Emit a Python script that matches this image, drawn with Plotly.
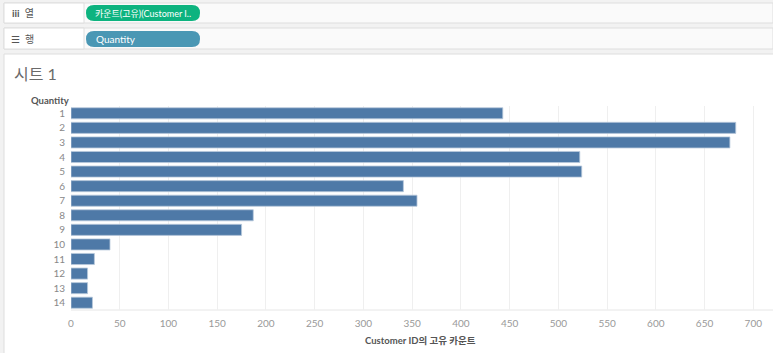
import plotly.graph_objects as go

# ---- data ----
quantity = ["1", "2", "3", "4", "5", "6", "7", "8", "9", "10", "11", "12", "13", "14"]
distinct_customers = [443, 682, 676, 522, 524, 341, 355, 187, 175, 40, 24, 17, 17, 22]
x_ticks = [0, 50, 100, 150, 200, 250, 300, 350, 400, 450, 500, 550, 600, 650, 700]

W, H = 773, 353
L, R, T, B = 71, 0, 106, 43
PW, PH = W - L - R, H - T - B
FONT = "Lato, 'Noto Sans CJK KR', 'Noto Sans', sans-serif"


def px(x):
    return (x - L) / PW


def py(y):
    return (H - B - y) / PH


def rect(x0, y0, x1, y1, fill, line=None, lw=1):
    return dict(type="rect", xref="paper", yref="paper", x0=px(x0), x1=px(x1),
                y0=py(y1), y1=py(y0), fillcolor=fill,
                line=dict(color=line or fill, width=lw if line else 0), layer="below")


def pill(x0, y0, x1, y1, fill):
    r = (y1 - y0) / 2
    pts = [
        f"M {px(x0 + r)},{py(y0)}",
        f"L {px(x1 - r)},{py(y0)}",
        f"Q {px(x1)},{py(y0)} {px(x1)},{py(y0 + r)}",
        f"Q {px(x1)},{py(y1)} {px(x1 - r)},{py(y1)}",
        f"L {px(x0 + r)},{py(y1)}",
        f"Q {px(x0)},{py(y1)} {px(x0)},{py(y0 + r)}",
        f"Q {px(x0)},{py(y0)} {px(x0 + r)},{py(y0)} Z",
    ]
    return dict(type="path", xref="paper", yref="paper", path=" ".join(pts),
                fillcolor=fill, line=dict(width=0), layer="above")


fig = go.Figure()
fig.add_trace(go.Bar(
    y=quantity, x=distinct_customers, orientation="h",
    marker=dict(color="#4e79a7", line=dict(color="#b9c9dc", width=0.8)),
    hoverinfo="skip",
))

shapes = [
    # shelf boxes
    rect(4, 3, 773, 23, "#fafafa", "#dedede"),
    rect(4, 3, 84, 23, "#ffffff", "#dedede"),
    rect(4, 28, 773, 49, "#fafafa", "#dedede"),
    rect(4, 28, 84, 49, "#ffffff", "#dedede"),
    # sheet panel
    rect(4, 54, 774, 354, "#ffffff", "#dedede"),
    pill(86, 5, 200, 21, "#0db37f"),
    pill(86, 31, 200, 47, "#4a97b4"),
    # bottom axis line
    dict(type="line", xref="paper", yref="paper", x0=0, x1=1, y0=0, y1=0,
         line=dict(color="#e6e6e6", width=1), layer="below"),
]

annotations = [
    dict(text="<b>iii</b>  열", x=px(10), y=py(13), xanchor="left", yanchor="middle",
         font=dict(size=10, color="#555555", family=FONT)),
    dict(text="☰  행", x=px(9), y=py(38.5), xanchor="left", yanchor="middle",
         font=dict(size=10, color="#555555", family=FONT)),
    dict(text="카운트(고유)(Customer I..", x=px(93), y=py(13), xanchor="left", yanchor="middle",
         font=dict(size=9, color="#ffffff", family=FONT)),
    dict(text="Quantity", x=px(94), y=py(39), xanchor="left", yanchor="middle",
         font=dict(size=10, color="#ffffff", family=FONT)),
    dict(text="시트 1", x=px(12), y=py(74), xanchor="left", yanchor="middle",
         font=dict(size=16, color="#6a6a6a", family=FONT)),
    dict(text="<b>Quantity</b>", x=px(29), y=py(100), xanchor="left", yanchor="middle",
         font=dict(size=9.5, color="#555555", family=FONT)),
    dict(text="<b>Customer ID의 고유 카운트</b>", x=px(420), y=py(340), xanchor="center",
         yanchor="middle", font=dict(size=9.5, color="#555555", family=FONT)),
]
for a in annotations:
    a.update(xref="paper", yref="paper", showarrow=False)

fig.update_layout(
    width=W, height=H,
    margin=dict(l=L, r=R, t=T, b=B, pad=0),
    paper_bgcolor="#f2f2f2",
    plot_bgcolor="rgba(0,0,0,0)",
    showlegend=False,
    bargap=0.24,
    shapes=shapes,
    annotations=annotations,
    font=dict(family=FONT),
    xaxis=dict(
        range=[0, PW / 0.9747], tickvals=x_ticks, ticktext=[str(v) for v in x_ticks],
        showgrid=True, gridcolor="#efefef", gridwidth=1, zeroline=False,
        showline=False, ticks="", ticklabelstandoff=6,
        tickfont=dict(size=10, color="#999999", family=FONT), fixedrange=True,
    ),
    yaxis=dict(
        type="category", autorange="reversed", showgrid=False, zeroline=False,
        showline=False, ticks="", ticklabelstandoff=5,
        tickfont=dict(size=10, color="#888888", family=FONT), fixedrange=True,
    ),
)

fig.write_html("out.html")
